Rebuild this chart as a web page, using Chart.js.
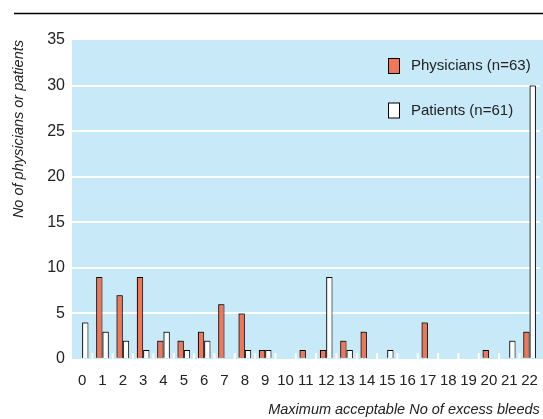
<!DOCTYPE html>
<html>
<head>
<meta charset="utf-8">
<script src="https://cdn.jsdelivr.net/npm/chart.js@4.4.1/dist/chart.umd.min.js"></script>
<style>
  html, body { margin: 0; padding: 0; background: #fff; }
  #wrap { width: 543px; height: 419px; }
</style>
</head>
<body>
<div id="wrap"><canvas id="chart" width="543" height="419"></canvas></div>
<script>
  var categories = ['0','1','2','3','4','5','6','7','8','9','10','11','12','13','14','15','16','17','18','19','20','21','22'];
  var physicians = [0, 9, 7, 9, 2, 2, 3, 6, 5, 1, 0, 1, 1, 2, 3, 0, 0, 4, 0, 0, 1, 0, 3];
  var patients   = [4, 3, 2, 1, 3, 1, 2, 0, 1, 1, 0, 0, 9, 1, 0, 1, 0, 0, 0, 0, 0, 2, 30];
  var seriesNames = ['Physicians (n=63)', 'Patients (n=61)'];
  var yTicks = [0, 5, 10, 15, 20, 25, 30, 35];

  var FONT = "'Liberation Sans Narrow', 'Arial Narrow', 'Liberation Sans', sans-serif";
  var BG = '#c8e9f8';
  var RED = '#f07658';

  // plot background, top rule and small white tick marks between categories
  var decor = {
    id: 'decor',
    beforeDraw: function(chart) {
      var ctx = chart.ctx, a = chart.chartArea;
      ctx.save();
      ctx.fillStyle = BG;
      ctx.fillRect(a.left, a.top, chart.width - a.left, a.bottom - a.top);
      ctx.strokeStyle = '#000';
      ctx.lineWidth = 1.5;
      ctx.beginPath();
      ctx.moveTo(14, 13.5);
      ctx.lineTo(chart.width, 13.5);
      ctx.stroke();
      ctx.restore();
    },
    beforeDatasetsDraw: function(chart) {
      var ctx = chart.ctx, a = chart.chartArea, xs = chart.scales.x;
      ctx.save();
      ctx.strokeStyle = '#fff';
      ctx.lineWidth = 2;
      for (var i = 1; i < categories.length; i++) {
        var x = (xs.getPixelForTick(i - 1) + xs.getPixelForTick(i)) / 2;
        ctx.beginPath();
        ctx.moveTo(x, a.bottom - 6);
        ctx.lineTo(x, a.bottom);
        ctx.stroke();
      }
      ctx.restore();
      ctx.save();
      ctx.shadowColor = 'rgba(0,0,0,0.45)';
      ctx.shadowOffsetX = -1;
      ctx.shadowOffsetY = -1;
      ctx.shadowBlur = 0;
    },
    afterDatasetsDraw: function(chart) {
      chart.ctx.restore();
    },
    afterDraw: function(chart) {
      var ctx = chart.ctx;
      var items = chart.data.datasets;
      ctx.save();
      ctx.font = '15px ' + FONT;
      ctx.textBaseline = 'middle';
      ctx.textAlign = 'left';
      for (var i = 0; i < items.length; i++) {
        var y = 58.5 + i * 44.5;
        ctx.fillStyle = items[i].backgroundColor;
        ctx.fillRect(388.5, y, 11, 15);
        ctx.strokeStyle = '#000';
        ctx.lineWidth = 1;
        ctx.strokeRect(388.5, y, 11, 15);
        ctx.fillStyle = '#222';
        ctx.fillText(items[i].label, 411, y + 7.5);
      }
      ctx.restore();
    }
  };

  new Chart(document.getElementById('chart'), {
    type: 'bar',
    data: {
      labels: categories,
      datasets: [
        { label: seriesNames[0], data: physicians, backgroundColor: RED, borderColor: '#000', borderWidth: 1, borderSkipped: 'bottom' },
        { label: seriesNames[1], data: patients, backgroundColor: '#ffffff', borderColor: '#000', borderWidth: 1, borderSkipped: 'bottom' }
      ]
    },
    options: {
      responsive: false,
      animation: false,
      devicePixelRatio: 1,
      layout: { padding: { top: 40, right: 2, left: 0, bottom: 0 } },
      datasets: { bar: { categoryPercentage: 0.62, barPercentage: 1.0 } },
      plugins: {
        legend: { display: false },
        tooltip: { enabled: false }
      },
      scales: {
        x: {
          grid: { display: false },
          border: { display: false },
          ticks: { color: '#222', font: { family: FONT, size: 15 }, padding: 5, maxRotation: 0, autoSkip: false },
          title: {
            display: true,
            text: 'Maximum acceptable No of excess bleeds',
            align: 'end',
            color: '#222',
            font: { family: FONT, size: 14.5, style: 'italic' },
            padding: { top: 12, bottom: 0 }
          },
          afterFit: function(s) { s.height = 60; }
        },
        y: {
          min: 0,
          max: 35,
          afterBuildTicks: function(s) { s.ticks = yTicks.map(function(v) { return { value: v }; }); },
          grid: {
            color: function(c) { return (c.tick && c.tick.value > 0 && c.tick.value < 35) ? '#ffffff' : 'rgba(0,0,0,0)'; },
            lineWidth: 2,
            drawTicks: false
          },
          border: { display: false },
          ticks: { color: '#222', font: { family: FONT, size: 16 }, padding: 7 },
          title: {
            display: true,
            text: 'No of physicians or patients',
            align: 'end',
            color: '#222',
            font: { family: FONT, size: 14.5, style: 'italic' },
            padding: { top: 10, bottom: 0 }
          },
          afterFit: function(s) { s.width = 72; }
        }
      }
    },
    plugins: [decor]
  });
</script>
</body>
</html>
